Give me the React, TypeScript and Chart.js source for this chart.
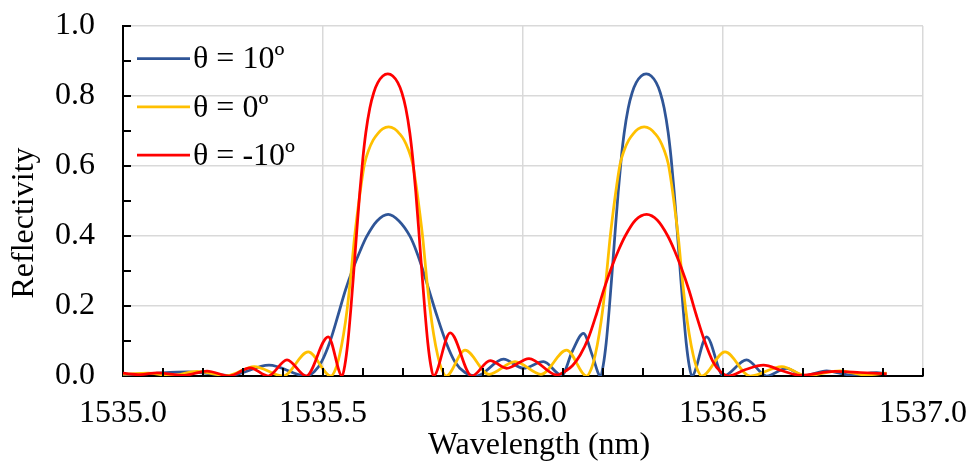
import { useEffect, useRef } from 'react';
import { Chart, registerables } from 'chart.js';

Chart.register(...registerables);

// ---- Data ----
const seriesLabels = ['θ = 10º', 'θ = 0º', 'θ = -10º'];
const seriesColors = ['#2F5597', '#FFC000', '#FF0000'];

// θ = 10º
const blueWavelength = [
  1535.000, 1535.068, 1535.163, 1535.268, 1535.365, 1535.458, 1535.478, 1535.497, 1535.518, 1535.538,
  1535.556, 1535.576, 1535.593, 1535.609, 1535.635, 1535.663, 1535.690, 1535.718, 1535.733, 1535.747,
  1535.765, 1535.784, 1535.808, 1535.830, 1535.855, 1535.884, 1535.951, 1536.001, 1536.051, 1536.097,
  1536.123, 1536.151, 1536.173, 1536.194, 1536.2005, 1536.208, 1536.2155, 1536.223, 1536.2305, 1536.238,
  1536.2455, 1536.253, 1536.263, 1536.273, 1536.283, 1536.2955, 1536.308, 1536.3205, 1536.333, 1536.343,
  1536.353, 1536.363, 1536.3705, 1536.378, 1536.3855, 1536.393, 1536.4005, 1536.408, 1536.4155, 1536.422,
  1536.459, 1536.501, 1536.559, 1536.609, 1536.659, 1536.701, 1536.759, 1536.818, 1536.884, 1536.909,
];
const blueReflectivity = [
  0.003, 0.007, 0.012, 0.002, 0.031, 0.000, 0.012, 0.042, 0.100, 0.175,
  0.245, 0.310, 0.358, 0.398, 0.443, 0.462, 0.443, 0.398, 0.358, 0.312,
  0.245, 0.175, 0.095, 0.040, 0.010, 0.000, 0.048, 0.022, 0.041, 0.002,
  0.070, 0.122, 0.060, 0.000, 0.030, 0.095, 0.190, 0.300, 0.415, 0.525,
  0.620, 0.695, 0.765, 0.810, 0.838, 0.857, 0.863, 0.857, 0.838, 0.810,
  0.765, 0.695, 0.620, 0.525, 0.415, 0.300, 0.190, 0.095, 0.030, 0.000,
  0.112, 0.000, 0.046, 0.000, 0.022, 0.001, 0.015, 0.003, 0.010, 0.006,
];

// θ = 0º
const yellowWavelength = [
  1535.000, 1535.063, 1535.118, 1535.185, 1535.260, 1535.328, 1535.400, 1535.463, 1535.520, 1535.5315,
  1535.5415, 1535.5515, 1535.5603, 1535.569, 1535.5778, 1535.5865, 1535.5953, 1535.604, 1535.614, 1535.6253,
  1535.6365, 1535.649, 1535.664, 1535.679, 1535.6915, 1535.7028, 1535.714, 1535.724, 1535.7328, 1535.7415,
  1535.7503, 1535.759, 1535.7678, 1535.7765, 1535.7865, 1535.7965, 1535.8078, 1535.855, 1535.915, 1535.980,
  1536.045, 1536.109, 1536.1593, 1536.1705, 1536.1805, 1536.1905, 1536.1993, 1536.208, 1536.2168, 1536.2255,
  1536.2343, 1536.243, 1536.253, 1536.2643, 1536.2755, 1536.288, 1536.303, 1536.318, 1536.3305, 1536.3418,
  1536.353, 1536.363, 1536.3718, 1536.3805, 1536.3893, 1536.398, 1536.4068, 1536.4155, 1536.4255, 1536.4355,
  1536.4468, 1536.505, 1536.568, 1536.647, 1536.709, 1536.793, 1536.855, 1536.909,
];
const yellowReflectivity = [
  0.005, 0.008, 0.001, 0.013, 0.001, 0.027, 0.000, 0.069, 0.000, 0.020,
  0.060, 0.120, 0.190, 0.280, 0.385, 0.470, 0.545, 0.607, 0.645, 0.674,
  0.692, 0.706, 0.712, 0.706, 0.692, 0.674, 0.645, 0.607, 0.545, 0.470,
  0.385, 0.280, 0.190, 0.120, 0.060, 0.020, 0.000, 0.074, 0.005, 0.041,
  0.005, 0.074, 0.000, 0.020, 0.060, 0.120, 0.190, 0.280, 0.385, 0.470,
  0.545, 0.607, 0.645, 0.674, 0.692, 0.706, 0.712, 0.706, 0.692, 0.674,
  0.645, 0.607, 0.545, 0.470, 0.385, 0.280, 0.190, 0.120, 0.060, 0.020,
  0.000, 0.069, 0.000, 0.027, 0.001, 0.015, 0.003, 0.008,
];

// θ = -10º
const redWavelength = [
  1535.000, 1535.043, 1535.085, 1535.153, 1535.210, 1535.265, 1535.318, 1535.363, 1535.410, 1535.458,
  1535.513, 1535.548, 1535.5545, 1535.562, 1535.5695, 1535.577, 1535.5845, 1535.592, 1535.5995, 1535.607,
  1535.617, 1535.627, 1535.637, 1535.6495, 1535.662, 1535.6745, 1535.687, 1535.697, 1535.707, 1535.717,
  1535.7245, 1535.732, 1535.7395, 1535.747, 1535.7545, 1535.762, 1535.7695, 1535.776, 1535.818, 1535.872,
  1535.918, 1535.959, 1536.015, 1536.085, 1536.1075, 1536.124, 1536.143, 1536.164, 1536.1845, 1536.2025,
  1536.222, 1536.239, 1536.2555, 1536.281, 1536.309, 1536.336, 1536.362, 1536.379, 1536.3955, 1536.415,
  1536.433, 1536.454, 1536.4745, 1536.494, 1536.514, 1536.555, 1536.601, 1536.648, 1536.693, 1536.780,
  1536.843, 1536.909,
];
const redReflectivity = [
  0.008, 0.004, 0.009, 0.002, 0.014, 0.000, 0.023, 0.000, 0.046, 0.000,
  0.112, 0.000, 0.030, 0.095, 0.190, 0.300, 0.415, 0.525, 0.620, 0.695,
  0.765, 0.810, 0.838, 0.857, 0.863, 0.857, 0.838, 0.810, 0.765, 0.695,
  0.620, 0.525, 0.415, 0.300, 0.190, 0.095, 0.030, 0.000, 0.123, 0.000,
  0.044, 0.022, 0.050, 0.003, 0.015, 0.030, 0.060, 0.110, 0.180, 0.248,
  0.312, 0.360, 0.400, 0.445, 0.462, 0.445, 0.400, 0.358, 0.310, 0.245,
  0.175, 0.100, 0.042, 0.012, 0.000, 0.018, 0.031, 0.015, 0.002, 0.013,
  0.010, 0.006,
];

const xMin = 1535.0;
const xMax = 1537.0;
const xStep = 0.5;
const xMinorStep = 0.1;
const yMin = 0;
const yMax = 1.0;
const yStep = 0.2;
const yMinorStep = 0.1;
const xTitle = 'Wavelength (nm)';
const yTitle = 'Reflectivity';

const FONT = "'Liberation Serif', 'Times New Roman', serif";
const FONT_SIZE = 32;

const toPoints = (xs: number[], ys: number[]) => xs.map((x, i) => ({ x, y: ys[i] }));

const zeroPadding = (s: any) => {
  s.paddingTop = 0;
  s.paddingBottom = 0;
  s.paddingLeft = 0;
  s.paddingRight = 0;
};

export default function App() {
  const canvasRef = useRef<HTMLCanvasElement | null>(null);

  useEffect(() => {
    const canvas = canvasRef.current;
    if (!canvas) return;

    const seriesData = [
      toPoints(blueWavelength, blueReflectivity),
      toPoints(yellowWavelength, yellowReflectivity),
      toPoints(redWavelength, redReflectivity),
    ];

    const innerTicks = {
      id: 'innerTicks',
      afterDraw(chart: any) {
        const { ctx, chartArea, scales } = chart;
        const xs = scales.x;
        const ys = scales.y;
        ctx.save();
        ctx.strokeStyle = '#000';
        ctx.lineWidth = 2;
        const nx = Math.round((xMax - xMin) / xMinorStep);
        for (let i = 1; i <= nx; i++) {
          const px = Math.round(xs.getPixelForValue(xMin + i * xMinorStep));
          ctx.beginPath();
          ctx.moveTo(px, chartArea.bottom);
          ctx.lineTo(px, chartArea.bottom - 8);
          ctx.stroke();
        }
        const ny = Math.round((yMax - yMin) / yMinorStep);
        for (let i = 1; i <= ny; i++) {
          const py = Math.round(ys.getPixelForValue(yMin + i * yMinorStep));
          ctx.beginPath();
          ctx.moveTo(chartArea.left, py);
          ctx.lineTo(chartArea.left + 8, py);
          ctx.stroke();
        }
        ctx.restore();
      },
    };

    const titlesAndLegend = {
      id: 'titlesAndLegend',
      afterDraw(chart: any) {
        const { ctx } = chart;
        ctx.save();
        ctx.fillStyle = '#000';
        ctx.font = `${FONT_SIZE}px ${FONT}`;
        // x title
        ctx.textAlign = 'center';
        ctx.textBaseline = 'alphabetic';
        ctx.fillText(xTitle, 539, 454);
        // y title
        ctx.save();
        ctx.translate(33, 223);
        ctx.rotate(-Math.PI / 2);
        ctx.fillText(yTitle, 0, 0);
        ctx.restore();
        // legend
        ctx.textAlign = 'left';
        ctx.textBaseline = 'middle';
        const rowY = [58.5, 106.8, 155];
        chart.data.datasets.forEach((ds: any, i: number) => {
          const y = rowY[i];
          ctx.strokeStyle = ds.borderColor;
          ctx.lineWidth = 2.75;
          ctx.beginPath();
          ctx.moveTo(137, y);
          ctx.lineTo(190, y);
          ctx.stroke();
          ctx.fillText(ds.label, 193, y + 1.5);
        });
        ctx.restore();
      },
    };

    const chart = new Chart(canvas, {
      type: 'line',
      data: {
        datasets: seriesData.map((d, i) => ({
          label: seriesLabels[i],
          data: d,
          borderColor: seriesColors[i],
          backgroundColor: seriesColors[i],
          borderWidth: 2.75,
          pointRadius: 0,
          fill: false,
          cubicInterpolationMode: 'monotone' as const,
          order: 2 - i,
        })),
      },
      options: {
        responsive: false,
        animation: false,
        devicePixelRatio: 1,
        layout: { padding: { top: 26, right: 47, left: 0, bottom: 0 } },
        plugins: {
          legend: { display: false },
          tooltip: { enabled: false },
        },
        scales: {
          x: {
            type: 'linear',
            min: xMin,
            max: xMax,
            afterFit: (s: any) => {
              s.height = 85;
              zeroPadding(s);
            },
            ticks: {
              stepSize: xStep,
              autoSkip: false,
              maxRotation: 0,
              padding: 18,
              color: '#000',
              font: { family: FONT, size: FONT_SIZE },
              callback: (v: any) => Number(v).toFixed(1),
            },
            grid: { color: '#d9d9d9', lineWidth: 1.5, drawTicks: false },
            border: { display: true, color: '#000', width: 2 },
          },
          y: {
            type: 'linear',
            min: yMin,
            max: yMax,
            afterFit: (s: any) => {
              s.width = 123;
              zeroPadding(s);
            },
            ticks: {
              stepSize: yStep,
              padding: 28,
              color: '#000',
              font: { family: FONT, size: FONT_SIZE },
              callback: (v: any) => Number(v).toFixed(1),
            },
            grid: { color: '#d9d9d9', lineWidth: 1.5, drawTicks: false },
            border: { display: true, color: '#000', width: 2 },
          },
        },
      },
      plugins: [innerTicks, titlesAndLegend],
    });

    return () => chart.destroy();
  }, []);

  return (
    <div style={{ position: 'fixed', left: 0, top: 0, width: 970, height: 461, background: '#fff' }}>
      <canvas ref={canvasRef} width={970} height={461} style={{ display: 'block' }} />
    </div>
  );
}
